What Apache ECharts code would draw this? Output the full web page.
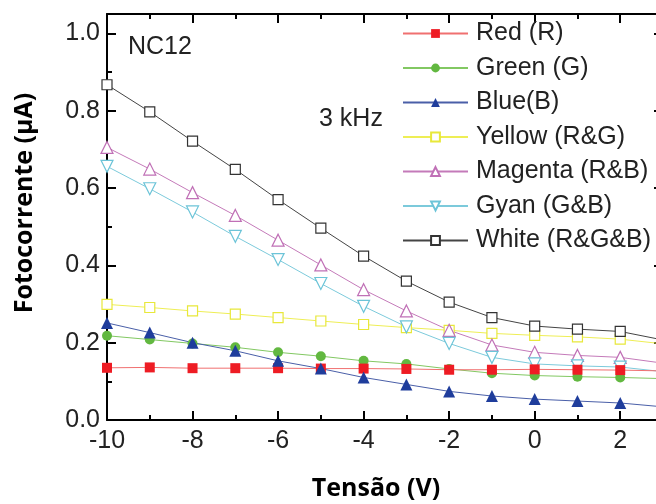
<!DOCTYPE html>
<html>
<head>
<meta charset="utf-8">
<script src="https://cdn.jsdelivr.net/npm/echarts@6/dist/echarts.min.js"></script>
<style>
html,body{margin:0;padding:0;background:#fff;}
#chart{width:656px;height:504px;}
</style>
</head>
<body>
<div id="chart"></div>
<script>
// Data
const voltages = [-10, -9, -8, -7, -6, -5, -4, -3, -2, -1, 0, 1, 2, 3];
const red     = [0.135, 0.136, 0.134, 0.134, 0.134, 0.133, 0.133, 0.132, 0.130, 0.130, 0.131, 0.130, 0.129, 0.127];
const green   = [0.218, 0.208, 0.198, 0.188, 0.175, 0.165, 0.153, 0.145, 0.132, 0.121, 0.115, 0.112, 0.110, 0.107];
const blue    = [0.251, 0.226, 0.200, 0.179, 0.153, 0.133, 0.110, 0.092, 0.074, 0.062, 0.054, 0.049, 0.044, 0.034];
const yellow  = [0.299, 0.291, 0.282, 0.274, 0.265, 0.256, 0.247, 0.239, 0.232, 0.224, 0.219, 0.215, 0.209, 0.197];
const magenta = [0.705, 0.649, 0.588, 0.529, 0.465, 0.401, 0.337, 0.282, 0.232, 0.194, 0.175, 0.167, 0.162, 0.147];
const cyan    = [0.656, 0.598, 0.538, 0.475, 0.415, 0.353, 0.294, 0.241, 0.198, 0.162, 0.145, 0.140, 0.137, 0.125];
const white   = [0.867, 0.797, 0.721, 0.648, 0.570, 0.496, 0.424, 0.359, 0.305, 0.265, 0.243, 0.235, 0.229, 0.207];
const legendNames = ['Red (R)', 'Green (G)', 'Blue(B)', 'Yellow (R&G)', 'Magenta (R&B)', 'Gyan (G&B)', 'White (R&G&B)'];
const xTitle = 'Tensão (V)';
const yTitle = 'Fotocorrente (µA)';
const sampleLabel = 'NC12';
const freqLabel = '3 kHz';

const pairs = arr => voltages.map((v, i) => [v, arr[i]]);
const tickFont = {fontSize: 25, fontFamily: 'Liberation Sans, Arial, sans-serif', color: '#222'};

function xAx(pos, interval, len, labels) {
  return {
    type: 'value', min: -10, max: 3, interval: interval, position: pos,
    axisLine: {show: interval === 2, onZero: false, lineStyle: {color: '#000', width: 2}},
    axisTick: {show: true, inside: true, length: len, lineStyle: {color: '#000', width: 2}},
    axisLabel: labels ? Object.assign({show: true, margin: 9, showMaxLabel: false}, tickFont) : {show: false},
    splitLine: {show: false}
  };
}
function yAx(pos, interval, len, labels) {
  return {
    type: 'value', min: 0, max: 1.05, interval: interval, position: pos,
    axisLine: {show: interval === 0.2, onZero: false, lineStyle: {color: '#000', width: 2}},
    axisTick: {show: true, inside: true, length: len, lineStyle: {color: '#000', width: 2}},
    axisLabel: labels ? Object.assign({show: true, margin: 7, showMaxLabel: false,
      formatter: v => v.toFixed(1)}, tickFont) : {show: false},
    splitLine: {show: false}
  };
}

function ser(name, data, symbol, size, fill, stroke, lineColor, rotate) {
  return {
    name: name, type: 'line', xAxisIndex: 0, yAxisIndex: 0,
    data: pairs(data), symbol: symbol, symbolSize: size, symbolRotate: rotate || 0,
    showAllSymbol: true,
    lineStyle: {color: lineColor, width: 1},
    itemStyle: {color: fill, borderColor: stroke, borderWidth: fill === '#fff' ? 1.2 : 0},
    emphasis: {disabled: true}
  };
}

const chart = echarts.init(document.getElementById('chart'), null, {renderer: 'canvas'});
chart.setOption({
  animation: false,
  backgroundColor: '#fff',
  grid: {left: 107, top: 14, width: 556, height: 406, containLabel: false, outerBoundsMode: 'none'},
  xAxis: [xAx('bottom', 2, 9, true), xAx('bottom', 1, 5, false), xAx('top', 2, 9, false), xAx('top', 1, 5, false)],
  yAxis: [yAx('left', 0.2, 9, true), yAx('left', 0.1, 5, false), yAx('right', 0.2, 9, false), yAx('right', 0.1, 5, false)],
  legend: {
    data: legendNames, orient: 'vertical', left: 402, top: 21, padding: 0,
    itemWidth: 65, itemHeight: 11, itemGap: 9.5,
    textStyle: {fontSize: 25, lineHeight: 25, fontFamily: 'Liberation Sans, Arial, sans-serif', color: '#222', padding: [0, 0, 0, 3]},
    selectedMode: false
  },
  graphic: [
    {type: 'text', x: 376, y: 489, style: {text: xTitle, font: 'bold 25px "Open Sans", sans-serif', fill: '#000', align: 'center', verticalAlign: 'middle'}},
    {type: 'text', x: 25, y: 203, rotation: Math.PI / 2, style: {text: yTitle, font: 'bold 25px "Open Sans", sans-serif', fill: '#000', align: 'center', verticalAlign: 'middle'}},
    {type: 'text', x: 128, y: 47, style: {text: sampleLabel, font: '25px "Liberation Sans", Arial, sans-serif', fill: '#222', align: 'left', verticalAlign: 'middle'}},
    {type: 'text', x: 319, y: 119, style: {text: freqLabel, font: '25px "Liberation Sans", Arial, sans-serif', fill: '#222', align: 'left', verticalAlign: 'middle'}}
  ],
  series: [
    ser(legendNames[3], yellow, 'rect', 10, '#fff', '#e8e83a', '#eeee55'),
    ser(legendNames[6], white, 'rect', 10, '#fff', '#333', '#444'),
    ser(legendNames[4], magenta, 'triangle', 12, '#fff', '#c070b6', '#c47ab9'),
    ser(legendNames[5], cyan, 'triangle', 12, '#fff', '#6cc4d8', '#7ccadb', 180),
    ser(legendNames[1], green, 'circle', 10, '#62b840', '#62b840', '#82c862'),
    ser(legendNames[0], red, 'rect', 10, '#ee1c24', '#ee1c24', '#f07070'),
    ser(legendNames[2], blue, 'triangle', 12, '#1f3d9c', '#1f3d9c', '#4a5fa8')
  ]
});
</script>
</body>
</html>
